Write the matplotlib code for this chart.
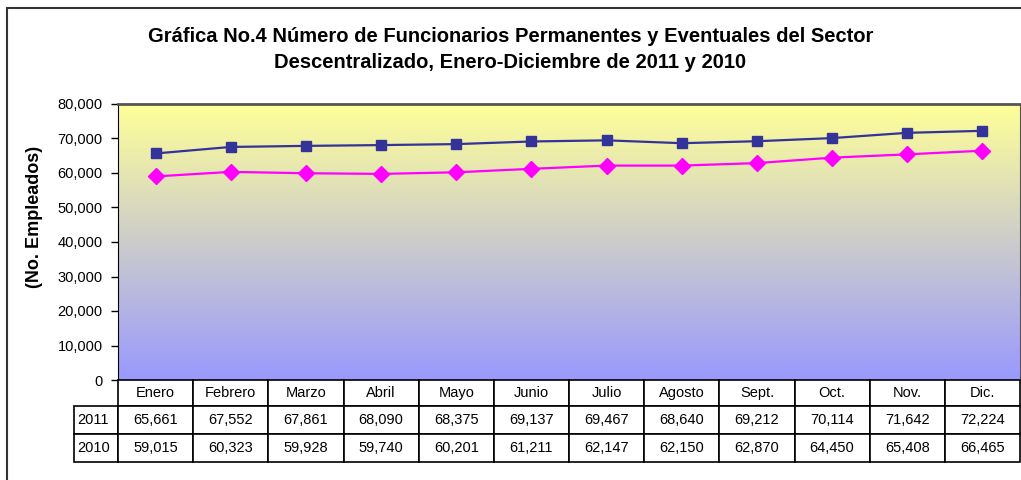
import numpy as np
import matplotlib.pyplot as plt
import matplotlib.transforms as mtransforms
from matplotlib.patches import Rectangle

# chart data
meses = ['Enero', 'Febrero', 'Marzo', 'Abril', 'Mayo', 'Junio', 'Julio',
         'Agosto', 'Sept.', 'Oct.', 'Nov.', 'Dic.']
anios = ['2011', '2010']
v2011 = [65661, 67552, 67861, 68090, 68375, 69137, 69467, 68640, 69212, 70114, 71642, 72224]
v2010 = [59015, 60323, 59928, 59740, 60201, 61211, 62147, 62150, 62870, 64450, 65408, 66465]
yticks = list(range(0, 80001, 10000))

plt.rcParams['font.family'] = ['Liberation Sans', 'DejaVu Sans']

W, H = 1021, 480
fig = plt.figure(figsize=(W / 100, H / 100), dpi=100)

# outer chart border (cut off on right and bottom like the original)
fig.patches.append(Rectangle((7 / W, -0.05), 1.2, 1 - 8 / H + 0.05, transform=fig.transFigure,
                             fill=False, edgecolor='#333333', linewidth=1.5))

left, right, top, bottom = 118, 1020, 104, 380
ax = fig.add_axes([left / W, 1 - bottom / H, (right - left) / W, (bottom - top) / H])

# gradient background: yellow top -> blue bottom
c_top = np.array([1.0, 1.0, 0.6])
c_bot = np.array([0.6, 0.6, 1.0])
t = np.linspace(0, 1, 256)[:, None]
grad = (c_top * (1 - t) + c_bot * t)[:, None, :]
ax.imshow(grad, extent=[-0.5, 11.5, 0, 80000], aspect='auto', zorder=0, origin='upper')

x = np.arange(len(meses))
ax.plot(x, v2011, color='#333399', lw=1.6, marker='s', ms=7.5, zorder=3)
ax.plot(x, v2010, color='#FF00FF', lw=1.6, marker='D', ms=8, zorder=3)

ax.set_xlim(-0.5, 11.5)
ax.set_ylim(0, 80000)
ax.set_yticks(yticks)
ax.set_yticklabels([f'{v:,}' for v in yticks], fontsize=10.5)
ax.tick_params(axis='y', length=5, width=1, pad=6)
ax.set_xticks([])
for s in ax.spines.values():
    s.set_color('#555555')
ax.spines['top'].set_linewidth(2)
ax.spines['left'].set_color('black')
ax.set_ylabel('(No. Empleados)', fontsize=13, fontweight='bold')
ax.yaxis.set_label_coords(-0.083, 0.59)

# data table under the plot: x in data units, y in axes fraction
trans = mtransforms.blended_transform_factory(ax.transData, ax.transAxes)
ph = bottom - top
r_hdr = 26 / ph
r_row = 28 / ph
lab_w = 44 / 75


def cell(x0, y0, w, h, txt, ha='center'):
    ax.add_patch(Rectangle((x0, y0), w, h, transform=trans, clip_on=False,
                           facecolor='white', edgecolor='black', lw=1.2, zorder=4))
    tx = x0 + w / 2 if ha == 'center' else x0 + 0.05
    ax.text(tx, y0 + h / 2, txt, transform=trans, ha=ha, va='center',
            fontsize=10.5, clip_on=False, zorder=5)


for j, m in enumerate(meses):
    cell(j - 0.5, -r_hdr, 1, r_hdr, m)
for i, (lab, vals) in enumerate(zip(anios, [v2011, v2010])):
    y0 = -r_hdr - (i + 1) * r_row
    cell(-0.5 - lab_w, y0, lab_w, r_row, lab, ha='left')
    for j, v in enumerate(vals):
        cell(j - 0.5, y0, 1, r_row, f'{v:,}')

fig.text(0.5, 1 - 36 / H, 'Gráfica No.4 Número de Funcionarios Permanentes y Eventuales del Sector',
         ha='center', va='center', fontsize=14.5, fontweight='bold')
fig.text(0.5, 1 - 62 / H, 'Descentralizado, Enero-Diciembre de 2011 y 2010',
         ha='center', va='center', fontsize=14.5, fontweight='bold')

fig.savefig('out.png', dpi=100)
